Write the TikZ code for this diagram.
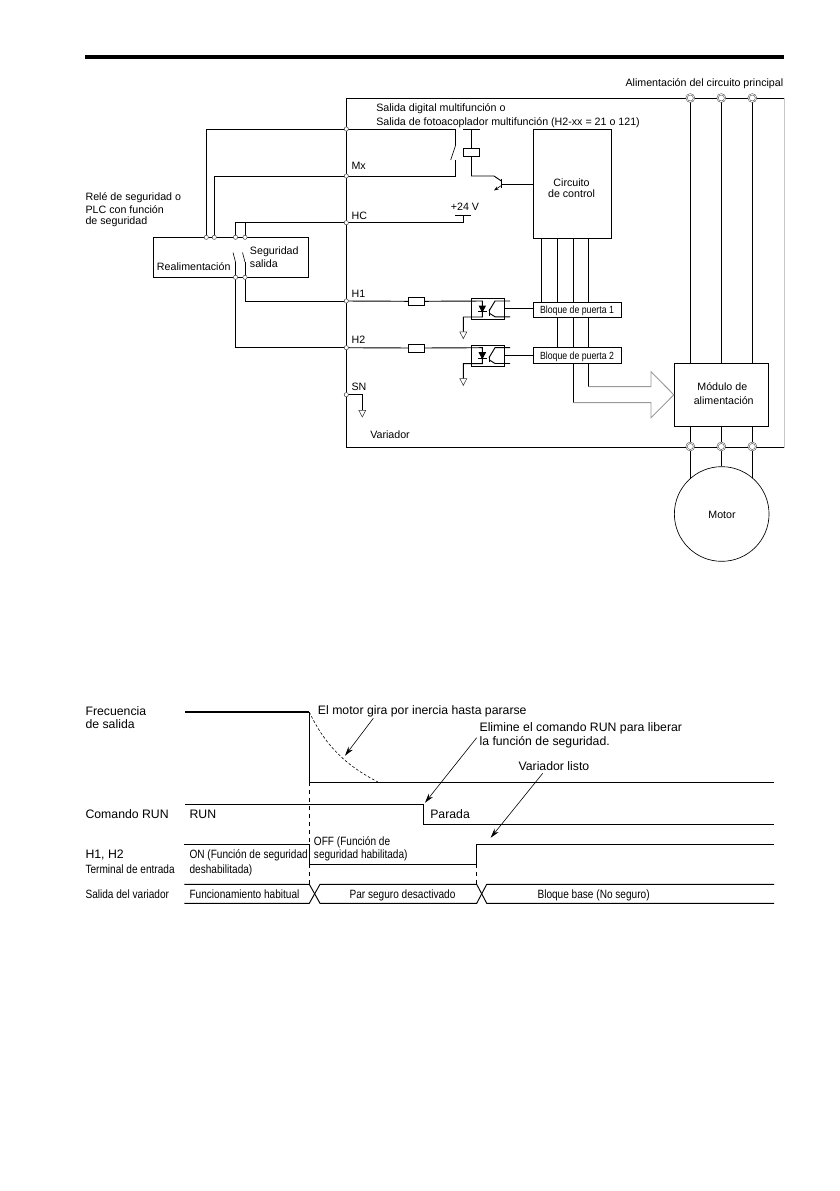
\documentclass[tikz,border=0pt]{standalone}
\usepackage{fontspec}
\setmainfont{Liberation Sans}
\newfontfamily\condfont[FakeStretch=0.84]{Liberation Sans}
\usetikzlibrary{arrows.meta, positioning, shapes.geometric}
\definecolor{arrowgray}{HTML}{9A9A9A}
\definecolor{framegray}{HTML}{C8C8C8}
\tikzset{
  wire/.style={line width=0.7pt},
  thinwire/.style={line width=0.45pt},
  lbl/.style={inner sep=0pt, anchor=west, text height=5.8pt, text depth=0pt, font=\fontsize{8}{9.6}\selectfont},
  lblbig/.style={lbl, text height=6.4pt, font=\fontsize{9.2}{11}\selectfont},
  lblcond/.style={lbl, text height=6.4pt, font=\condfont\fontsize{9}{10.8}\selectfont},
  lblgate/.style={lbl, anchor=center, text height=5.6pt, font=\condfont\fontsize{7.8}{9}\selectfont},
  boxnode/.style={rectangle, draw, line width=0.7pt, inner sep=0pt, fill=white},
  term/.style={circle, draw=black!70, fill=white, line width=0.4pt, inner sep=0pt, minimum size=3.2pt},
  powerterm/.style={circle, double=white, draw=black!70, fill=white, line width=0.4pt, double distance=0.5pt, inner sep=0pt, minimum size=5.6pt},
  gnd/.style={isosceles triangle, shape border rotate=-90, isosceles triangle stretches, draw=black!80, line width=0.4pt, inner sep=0pt, minimum width=5.2pt, minimum height=5pt, anchor=apex},
  pointer/.style={thinwire, -{Stealth[length=7pt,width=4pt]}}
}
\begin{document}
\begin{tikzpicture}[x=0.75pt,y=-0.75pt]
\useasboundingbox (0,0) rectangle (839,1191);
% Page rule
\coordinate (ruleL) at (85,57);
\coordinate (ruleR) at (784,57);
\draw[line width=2.4pt] (ruleL) -- (ruleR);

% Inverter frame and terminals
\coordinate (frameTL) at (346.3,98.5);
\coordinate (frameTR) at (784,98.5);
\coordinate (frameBL) at (346.3,447.5);
\coordinate (frameBR) at (784,447.5);
\coordinate (tTop) at (346.3,129);
\coordinate (tMx) at (346.3,176);
\coordinate (tHC) at (346.3,222.7);
\coordinate (tH1) at (346.3,301);
\coordinate (tH2) at (346.3,347.7);
\coordinate (tSN) at (346.3,394.7);
\draw[framegray, wire] (frameTR) -- (frameBR);
\draw[wire] (frameTR) -- (frameTL) -- (frameBL) -- (frameBR);

% Safety relay
\node[boxnode, minimum width=116.5pt, minimum height=30pt] (relay) at (231,257.3) {};
\coordinate (rA) at (206.3,237.3);
\coordinate (rB) at (214.3,237.3);
\coordinate (rC) at (235.5,237.3);
\coordinate (rD) at (245,237.3);
\coordinate (rE) at (235.5,277.3);
\coordinate (rF) at (245,277.3);
\draw[wire] (tTop) -| (rA);
\draw[wire] (tMx) -| (rB);
\draw[wire] (tHC) -| (rC);
\draw[wire] (tHC) -| (rD);
\draw[wire] (rE) |- (tH2);
\draw[wire] (rF) |- (tH1);
\coordinate (swC) at (235.5,262);
\coordinate (swD) at (245,262);
\draw[thinwire] (233,252.5) -- (swC);
\draw[thinwire] (242.5,252.5) -- (swD);
\draw[wire] (swC) -- (rE);
\draw[wire] (swD) -- (rF);
\node[lbl] (relayA) at (85.3,196.7) {Relé de seguridad o};
\node[lbl] (relayB) at (85.3,209.5) {PLC con función};
\node[lbl] (relayC) at (85.3,220.7) {de seguridad};
\node[lbl] (feedback) at (156.7,266.7) {Realimentación};
\node[lbl] (safetyA) at (249.7,250.7) {Seguridad};
\node[lbl] (safetyB) at (249.7,263.3) {salida};

% Terminal labels
\node[lbl] (lblMx) at (351.3,166) {Mx};
\node[lbl] (lblHC) at (351.3,215.3) {HC};
\node[lbl] (lblH1) at (351.3,293.3) {H1};
\node[lbl] (lblH2) at (351.3,340) {H2};
\node[lbl] (lblSN) at (351.3,387) {SN};
\node[lbl] (lblDrive) at (370,434.3) {Variador};
\node[lbl, anchor=east] (lblMain) at (783.5,82.3) {Alimentación del circuito principal};
\node[lbl] (lblOutA) at (376,107.7) {Salida digital multifunción o};
\node[lbl] (lblOutB) at (376,121.7) {Salida de fotoacoplador multifunción (H2-xx = 21 o 121)};

% Output contact, coil and transistor
\node[boxnode, minimum width=12pt, minimum height=6pt] (coil) at (471.5,152.3) {};
\node[boxnode, minimum width=58.5pt, minimum height=81.7pt] (control) at (572.3,183.8) {};
\node[lbl, anchor=center] (controlA) at (571.5,182.7) {Circuito};
\node[lbl, anchor=center] (controlB) at (571.5,193.7) {de control};
\coordinate (swOutT) at (455.7,145);
\coordinate (swOutB) at (455.7,160);
\draw[wire] (tTop) -| (swOutT);
\draw[wire] (tMx) -| (swOutB);
\draw[thinwire] (swOutT) -- (450.7,160);
\coordinate (coilTop) at (471.5,129);
\draw[wire] (463.3,129) -- (479.7,129);
\draw[wire] (coilTop) -- (coil.north);
\coordinate (qC) at (494,176);
\coordinate (qB) at (501.3,184);
\draw[wire] (coil.south) |- (qC) -- (501.3,181);
\draw[wire] (501.3,179) -- (501.3,188);
\draw[thinwire, -{Stealth[length=3.5pt,width=2.5pt]}] (501.3,185.5) -- (494,190.5);
\draw[wire] (qB) -- (qB -| control.west);
\node[lbl, anchor=center] (plus24) at (465,207) {+24 V};
\coordinate (vcc) at (463.3,215.7);
\draw[wire] (455.3,215.7) -- (470.7,215.7);
\draw[wire] (tHC) -| (vcc);

% Gate blocks
\node[boxnode, minimum width=66.3pt, minimum height=11.2pt] (gateA) at (577.5,309.8) {};
\node[boxnode, minimum width=66.3pt, minimum height=12pt] (gateB) at (577.5,355.3) {};
\node[lblgate] (gateAtxt) at (577,309.5) {Bloque de puerta 1};
\node[lblgate] (gateBtxt) at (577,355.7) {Bloque de puerta 2};
\coordinate (busA) at (541.7,238.3);
\coordinate (busB) at (557.7,238.3);
\coordinate (busC) at (573.3,238.3);
\coordinate (busD) at (588.3,238.3);
\draw[wire] (busA) -- (busA |- gateA.north);
\draw[wire] (busB) -- (busB |- gateA.north);
\draw[wire] (busB |- gateA.south) -- (busB |- gateB.north);
\draw[wire] (busC) -- (busC |- gateA.north);
\draw[wire] (busC |- gateA.south) -- (busC |- gateB.north);
\draw[wire] (busD) -- (busD |- gateA.north);
\draw[wire] (busD |- gateA.south) -- (busD |- gateB.north);

% Optocoupler 1
\node[boxnode, fill=none, minimum width=24.7pt, minimum height=15.7pt] (optoA) at (487.8,308.8) {};
\node[boxnode, minimum width=12.3pt, minimum height=6pt] (resA) at (416.5,301.3) {};
\coordinate (ledA) at (482.3,301);
\coordinate (ledAb) at (482.3,317);
\coordinate (gndA) at (463.3,317);
\node[gnd] (gndAs) at (463.3,339.3) {};
\draw[wire] (tH1) -- (resA.west);
\draw[wire] (resA.east) -- (ledA) -- (ledAb) -- (gndA) -- (gndAs.lower side);
\draw[fill=black, wire] (479.3,306) -- (485.3,306) -- (482.3,311.7) -- cycle;
\draw[wire] (478,311.7) -- (486.5,311.7);
\draw[wire] (489,309) -- (489,315.5);
\draw[wire] (510,301) -- (495,301) -- (489,311);
\draw[wire] (510,316.8) -- (495,316.8) -- (489,313);
\draw[wire] (optoA.east) -- (optoA.east -| gateA.west);

% Optocoupler 2
\node[boxnode, fill=none, minimum width=24.7pt, minimum height=15.7pt] (optoB) at (487.8,355.5) {};
\node[boxnode, minimum width=12.3pt, minimum height=6pt] (resB) at (416.5,348) {};
\coordinate (ledB) at (482.3,347.7);
\coordinate (ledBb) at (482.3,363.7);
\coordinate (gndB) at (463.3,363.7);
\node[gnd] (gndBs) at (463.3,386) {};
\draw[wire] (tH2) -- (resB.west);
\draw[wire] (resB.east) -- (ledB) -- (ledBb) -- (gndB) -- (gndBs.lower side);
\draw[fill=black, wire] (479.3,352.7) -- (485.3,352.7) -- (482.3,358.4) -- cycle;
\draw[wire] (478,358.4) -- (486.5,358.4);
\draw[wire] (489,355.7) -- (489,362.2);
\draw[wire] (510,347.7) -- (495,347.7) -- (489,357.7);
\draw[wire] (510,363.5) -- (495,363.5) -- (489,359.7);
\draw[wire] (optoB.east) -- (optoB.east -| gateB.west);

% SN ground
\node[gnd] (gndSN) at (362.3,417.7) {};
\draw[wire] (tSN) -| (gndSN.lower side);

% Power module and motor
\node[boxnode, minimum width=70.5pt, minimum height=47.3pt] (power) at (721.3,394.8) {};
\node[lbl, anchor=center] (powerA) at (722.3,387) {Módulo de};
\node[lbl, anchor=center] (powerB) at (723.7,400.3) {alimentación};
\node[circle, draw, line width=0.5pt, inner sep=0pt, minimum size=71pt] (motor) at (721.7,514) {};
\node[lbl, anchor=center] (motorTxt) at (722,514.7) {Motor};
\coordinate (inU) at (690.3,98);
\coordinate (inV) at (721.3,98);
\coordinate (inW) at (752.3,98);
\coordinate (outU) at (690.3,446.5);
\coordinate (outV) at (721.3,446.5);
\coordinate (outW) at (752.3,446.5);
\coordinate (motorU) at (690.3,478.7);
\coordinate (motorW) at (752.3,478.2);
\draw[wire] (inU) -- (inU |- power.north);
\draw[wire] (inV) -- (inV |- power.north);
\draw[wire] (inW) -- (inW |- power.north);
\draw[wire] (outU |- power.south) -- (motorU);
\draw[wire] (outV |- power.south) -- (outV |- motor.north);
\draw[wire] (outW |- power.south) -- (motorW);

% Hollow arrow into the power module
\coordinate (feedD) at (588.3,386.7);
\coordinate (feedC) at (573.3,402.7);
\draw[wire] (busC |- gateB.south) -- (feedC);
\draw[wire] (busD |- gateB.south) -- (feedD);
\draw[arrowgray, wire] (feedD) -- (651,386.7) -- (651,371.7) -- (power.west) -- (651,417.7) -- (651,402.7) -- (feedC);

% Terminal circles go on top of the wires
\node[term] (cTop) at (tTop) {};
\node[term] (cMx) at (tMx) {};
\node[term] (cHC) at (tHC) {};
\node[term] (cH1) at (tH1) {};
\node[term] (cH2) at (tH2) {};
\node[term] (cSN) at (tSN) {};
\node[term] (cA) at (rA) {};
\node[term] (cB) at (rB) {};
\node[term] (cC) at (rC) {};
\node[term] (cD) at (rD) {};
\node[term] (cE) at (rE) {};
\node[term] (cF) at (rF) {};
\node[powerterm] (pU) at (inU) {};
\node[powerterm] (pV) at (inV) {};
\node[powerterm] (pW) at (inW) {};
\node[powerterm] (qU) at (outU) {};
\node[powerterm] (qV) at (outV) {};
\node[powerterm] (qW) at (outW) {};

% Timing chart
\coordinate (freqS) at (185,712);
\coordinate (freqD) at (309.3,712);
\coordinate (freqL) at (309.3,782.3);
\coordinate (freqE) at (774,782.3);
\draw[line width=1.3pt] (freqS) -- (freqD);
\draw[wire] (freqD) -- (freqL) -- (freqE);
\coordinate (runS) at (185,804.3);
\coordinate (runD) at (423.7,804.3);
\coordinate (runL) at (423.7,824.3);
\coordinate (runE) at (774,824.3);
\draw[wire] (runS) -- (runD) -- (runL) -- (runE);
\coordinate (hS) at (184.3,844.3);
\coordinate (hD) at (309.3,844.3);
\coordinate (hL) at (309.3,864);
\coordinate (hM) at (476.7,864);
\coordinate (hU) at (476.7,844.3);
\coordinate (hE) at (774,844.3);
\draw[wire] (hS) -- (hD) -- (hL) -- (hM) -- (hU) -- (hE);
\coordinate (outAt) at (309.3,884.3);
\coordinate (outAb) at (309.3,903.3);
\coordinate (outBt) at (320,884.3);
\coordinate (outBb) at (320,903.3);
\coordinate (outCt) at (476.7,884.3);
\coordinate (outCb) at (476.7,903.3);
\coordinate (outDt) at (486.7,884.3);
\coordinate (outDb) at (486.7,903.3);
\draw[wire] (184.3,884.3) -- (outAt) -- (outBb) -- (outCb) -- (outDt) -- (774,884.3);
\draw[wire] (184.3,903.3) -- (outAb) -- (outBt) -- (outCt) -- (outDb) -- (774,903.3);
\draw[wire, dashed] (freqL) -- (hD);
\draw[wire, dashed] (hL) -- (outAt);
\draw[wire, dashed] (hM) -- (outCt);
\draw[thinwire, dash pattern=on 2pt off 1.5pt] (freqD) .. controls (325,745) and (345,765) .. (378,782);

\node[lblbig] (lblFreqA) at (85.3,711.7) {Frecuencia};
\node[lblbig] (lblFreqB) at (85.3,724) {de salida};
\node[lblbig] (lblRun) at (85.3,814) {Comando RUN};
\node[lblbig] (lblH) at (85.3,854) {H1, H2};
\node[lblcond] (lblInput) at (85.3,869) {Terminal de entrada};
\node[lblcond] (lblDriveOut) at (85.3,894) {Salida del variador};
\node[lblbig] (txtRun) at (189.3,814) {RUN};
\node[lblbig] (txtStop) at (430,814) {Parada};
\node[lblcond] (txtOnA) at (189.3,854) {ON (Función de seguridad};
\node[lblcond] (txtOnB) at (189.3,869) {deshabilitada)};
\node[lblcond] (txtOffA) at (313.7,841.7) {OFF (Función de};
\node[lblcond] (txtOffB) at (313.7,854) {seguridad habilitada)};
\node[lblcond] (txtNormal) at (189.3,894) {Funcionamiento habitual};
\node[lblcond] (txtTorque) at (349.3,894) {Par seguro desactivado};
\node[lblcond] (txtBase) at (537.3,894) {Bloque base (No seguro)};
\node[lblbig] (noteCoast) at (317.7,710) {El motor gira por inercia hasta pararse};
\node[lblbig] (noteRunA) at (479.3,727.3) {Elimine el comando RUN para liberar};
\node[lblbig] (noteRunB) at (479.3,741.7) {la función de seguridad.};
\node[lblbig] (noteReady) at (518.3,766) {Variador listo};

\coordinate (tipCoast) at (345,755.7);
\coordinate (tipRun) at (425,802.7);
\coordinate (tipReady) at (490.7,837.7);
\draw[pointer] (373.3,718.3) -- (tipCoast);
\draw[pointer] (476.7,737.7) -- (tipRun);
\draw[pointer] (542.7,773.3) -- (tipReady);
\end{tikzpicture}
\end{document}
